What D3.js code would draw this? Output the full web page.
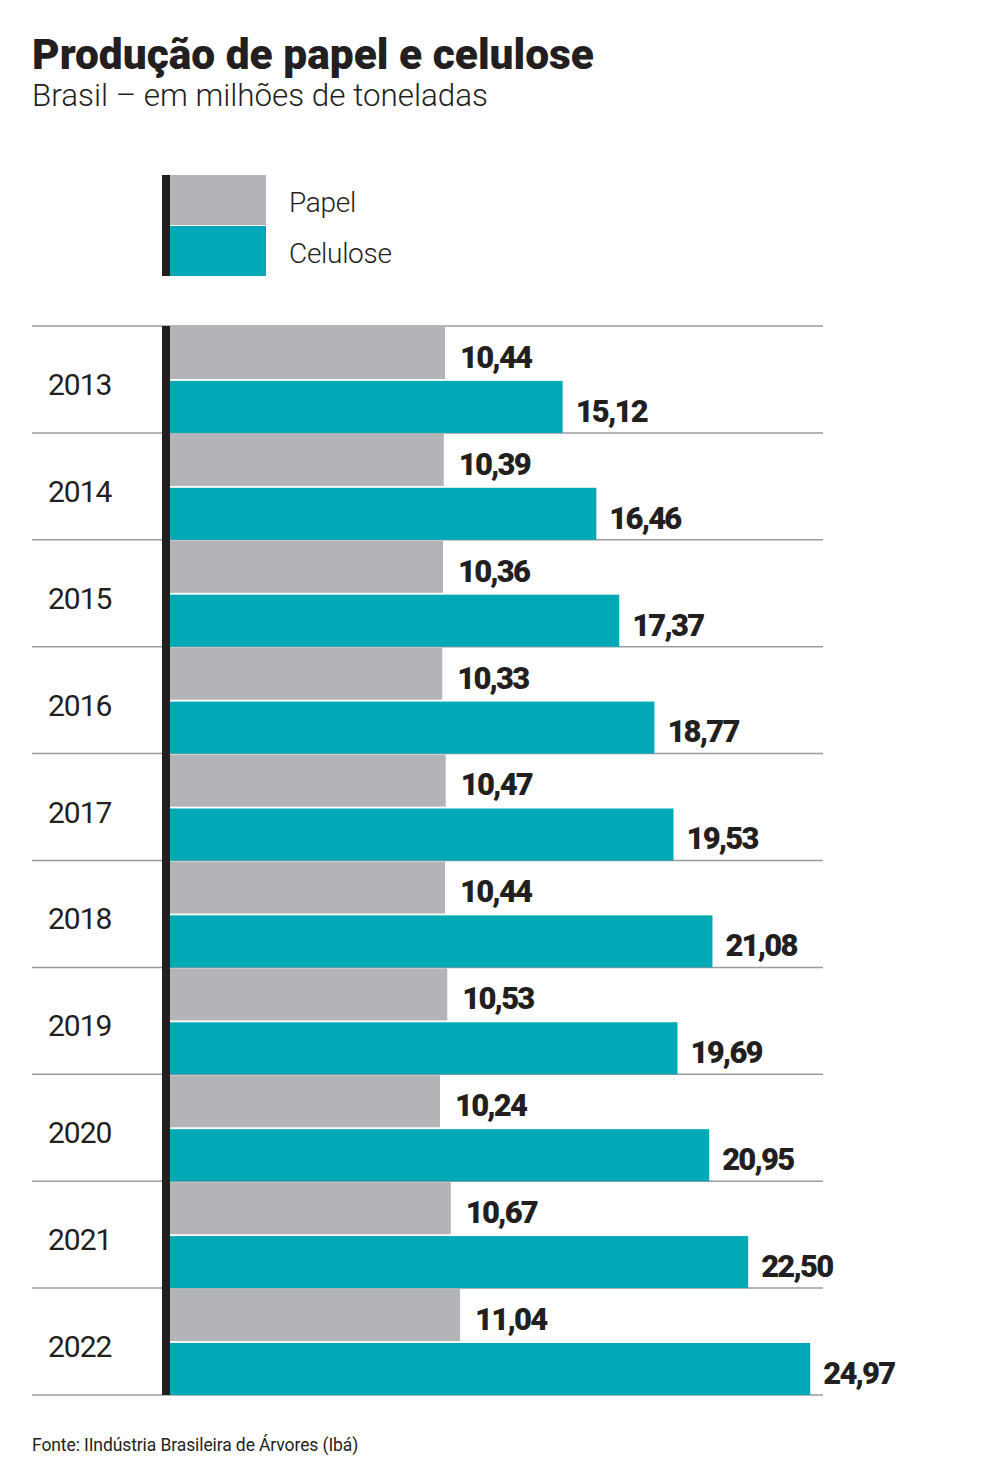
<!DOCTYPE html>
<html>
<head>
<meta charset="utf-8">
<script src="https://cdn.jsdelivr.net/npm/d3@7.9.0/dist/d3.min.js"></script>
<style>
  body { margin: 0; background: #fff; }
  svg { display: block; }
  text { fill: #231f20; }
</style>
</head>
<body>
<svg id="chart" width="984" height="1476"></svg>
<script>
const years = ['2013', '2014', '2015', '2016', '2017', '2018', '2019', '2020', '2021', '2022']
const papel = [10.44, 10.39, 10.36, 10.33, 10.47, 10.44, 10.53, 10.24, 10.67, 11.04]
const celulose = [15.12, 16.46, 17.37, 18.77, 19.53, 21.08, 19.69, 20.95, 22.50, 24.97]
const seriesNames = ['Papel', 'Celulose']
const seriesColors = ['#b3b4b7', '#00a9b5']

const svg = d3.select('#chart')
const fmt = (v) => v.toFixed(2).replace('.', ',')

// titulo
svg.append('text')
    .attr('x', 32).attr('y', 69)
    .attr('font-family', 'Roboto').attr('font-weight', 900)
    .attr('font-size', 43)
    .attr('textLength', 562).attr('lengthAdjust', 'spacingAndGlyphs')
    .text('Produção de papel e celulose')

svg.append('text')
    .attr('x', 32).attr('y', 106)
    .attr('font-family', 'Roboto').attr('font-weight', 300)
    .attr('font-size', 31)
    .attr('textLength', 456).attr('lengthAdjust', 'spacingAndGlyphs')
    .text('Brasil – em milhões de toneladas')

// legenda
const legend = svg.append('g')
seriesNames.forEach((name, i) => {
    legend.append('rect')
        .attr('x', 170).attr('y', 175 + i * 51)
        .attr('width', 96).attr('height', 50)
        .attr('fill', seriesColors[i])
    legend.append('text')
        .attr('x', 289).attr('y', 202 + i * 51)
        .attr('dy', '0.35em')
        .attr('font-family', 'Roboto').attr('font-weight', 300)
        .attr('font-size', 28)
        .attr('letter-spacing', -0.3)
        .text(name)
})
legend.append('rect')
    .attr('x', 162).attr('y', 175)
    .attr('width', 8).attr('height', 101)
    .attr('fill', '#231f20')

// escalas
const y = d3.scaleBand().domain(years).range([326, 1395])
const inner = d3.scaleBand().domain(seriesNames).range([1, y.bandwidth()]).paddingInner(0.035)
const x = d3.scaleLinear().domain([-0.5, 25]).range([170, 811])
const x0 = x(x.domain()[0])

// linhas de grade
const gridYs = years.map((yr) => y(yr)).concat([y.range()[1]])
svg.append('g').selectAll('line')
    .data(gridYs)
    .join('line')
    .attr('x1', 32).attr('x2', 823)
    .attr('y1', (d) => d).attr('y2', (d) => d)
    .attr('stroke', '#9a9b9d').attr('stroke-width', 1.5)

// barras
const rows = svg.append('g').selectAll('g')
    .data(years.map((yr, i) => ({ year: yr, values: [papel[i], celulose[i]] })))
    .join('g')
    .attr('transform', (d) => `translate(0,${y(d.year)})`)

rows.append('text')
    .attr('x', 48).attr('y', y.bandwidth() / 2 + 5)
    .attr('dy', '0.35em')
    .attr('font-family', 'Roboto').attr('font-weight', 400)
    .attr('font-size', 30)
    .attr('letter-spacing', -1)
    .text((d) => d.year)

seriesNames.forEach((name, si) => {
    rows.append('rect')
        .attr('x', x0)
        .attr('y', inner(name))
        .attr('width', (d) => x(d.values[si]) - x0)
        .attr('height', inner.bandwidth())
        .attr('fill', seriesColors[si])

    rows.append('text')
        .attr('x', (d) => x(d.values[si]) + (si === 0 ? 15 : 13))
        .attr('y', inner(name) + inner.bandwidth() / 2 + 4)
        .attr('dy', '0.35em')
        .attr('font-family', 'Roboto').attr('font-weight', 900)
        .attr('font-size', 31)
        .attr('letter-spacing', -1.8)
        .text((d) => fmt(d.values[si]))
})

// eixo vertical
svg.append('rect')
    .attr('x', 162).attr('y', 326)
    .attr('width', 8).attr('height', 1395 - 326)
    .attr('fill', '#231f20')

// fonte
svg.append('text')
    .attr('x', 32).attr('y', 1451)
    .attr('font-family', 'Roboto').attr('font-weight', 400)
    .attr('font-size', 17.5)
    .attr('letter-spacing', -0.1)
    .text('Fonte: IIndústria Brasileira de Árvores (Ibá)')
</script>
</body>
</html>
